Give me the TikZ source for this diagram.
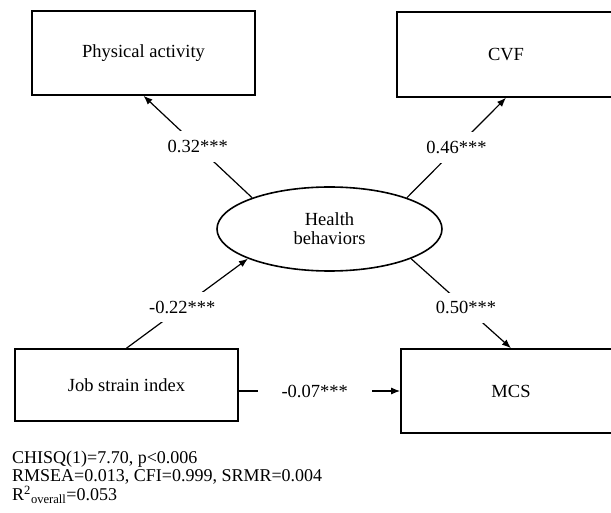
\documentclass[tikz,border=0pt]{standalone}
\usepackage{fontspec}
\setmainfont{Liberation Serif}
\usetikzlibrary{arrows.meta,shapes.geometric}
\tikzset{
  box/.style={draw, line width=1.6pt, inner sep=0pt, font=\fontsize{18.5}{19}\selectfont},
  latent/.style={ellipse, draw, line width=1.6pt, minimum width=225pt, minimum height=84pt,
    inner sep=0pt, align=center, font=\fontsize{18.5}{19}\selectfont},
  arr/.style={-{Latex[length=9pt,width=7pt]}, line width=1.2pt},
  lbl/.style={fill=white, inner xsep=4pt, inner ysep=9pt, font=\fontsize{18.5}{19}\selectfont},
  stat/.style={anchor=base west, inner sep=0pt, font=\fontsize{18}{18}\selectfont}
}
\begin{document}
\begin{tikzpicture}[x=1pt,y=-1pt]
    \useasboundingbox (0,0) rectangle (611,513);
    \clip (0,0) rectangle (611,513);
    \node[box, minimum width=223pt, minimum height=84pt] (pa) at (143.5,53) {Physical activity};
    \node[box, minimum width=218pt, minimum height=85pt] (cvf) at (506,54.5) {CVF};
    \node[latent] (hb) at (329.5,229) {Health\\behaviors};
    \node[box, minimum width=223pt, minimum height=72pt] (jsi) at (126.5,385) {Job strain index};
    \node[box, minimum width=220pt, minimum height=84pt] (mcs) at (511,391) {MCS};
    \path[arr]
    (hb.158) edge node[lbl] {0.32***} (pa.south)
    (hb.22) edge node[lbl] {0.46***} (cvf.south)
    (jsi.north) edge node[lbl, pos=0.46] {-0.22***} (hb.200)
    (hb.-20) edge node[lbl, pos=0.55] {0.50***} (mcs.north)
    (jsi.east |- mcs.west) edge node[lbl, pos=0.47, inner xsep=24pt] {-0.07***} (mcs.west)
;
    \node[stat] (chi) at (12,463) {CHISQ(1)=7.70, p<0.006};
    \node[stat] (fit) at (12,481.5) {RMSEA=0.013, CFI=0.999, SRMR=0.004};
    \node[stat] (rsq) at (12,500.5) {R\textsuperscript{2}\textsubscript{overall}=0.053};

\end{tikzpicture}
\end{document}
